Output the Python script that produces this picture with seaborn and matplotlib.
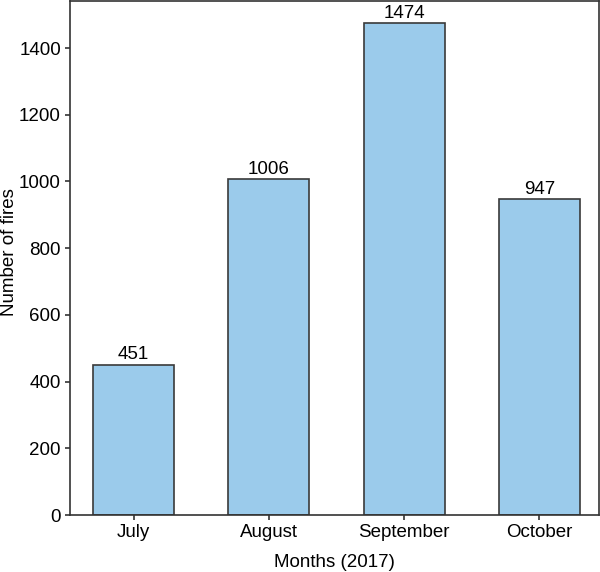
import matplotlib
matplotlib.use("Agg")
import matplotlib.pyplot as plt
import seaborn as sns
import pandas as pd

months = ["July", "August", "September", "October"]
fires = [451, 1006, 1474, 947]

sns.set_style("ticks")
plt.rcParams['font.family'] = ['Liberation Sans', 'DejaVu Sans']
plt.rcParams['text.color'] = 'black'
plt.rcParams['axes.labelcolor'] = 'black'
plt.rcParams['xtick.color'] = '#333333'
plt.rcParams['ytick.color'] = '#333333'
plt.rcParams['xtick.labelcolor'] = 'black'
plt.rcParams['ytick.labelcolor'] = 'black'

df = pd.DataFrame({"month": months, "fires": fires})

fig = plt.figure(figsize=(6.0, 5.72), dpi=100)
ax = fig.add_axes([70/600, 1 - 515/572, 529/600, 514/572])
sns.barplot(data=df, x="month", y="fires", color="#9BCBEB", saturation=1,
            width=0.6, edgecolor="#3a3a3a", linewidth=1.2, ax=ax)
for c in ax.containers:
    ax.bar_label(c, fontsize=13.5, padding=1, color="black")
ax.set_xlim(-0.47, 3.44)
ax.set_ylim(0, 1541)
ax.set_xlabel("Months (2017)", fontsize=13.5, labelpad=9)
ax.set_ylabel("Number of fires", fontsize=13.5)
ax.yaxis.set_label_coords(-0.099, 0.512)
ax.tick_params(labelsize=13.5, length=3.5, width=1.2, pad=3)
for s in ax.spines.values():
    s.set_visible(True)
    s.set_linewidth(1.2)
    s.set_color("#333333")
fig.savefig("out.png", dpi=100)
